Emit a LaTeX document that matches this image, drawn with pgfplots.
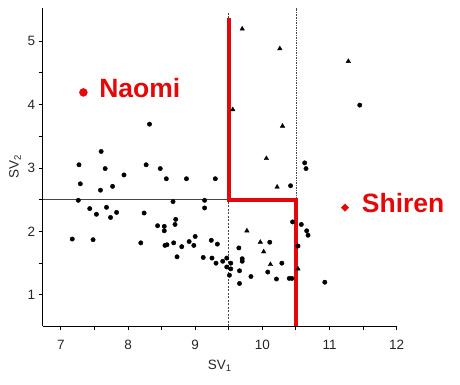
\documentclass[border=0pt]{standalone}
\usepackage{pgfplots}
\pgfplotsset{compat=1.18}
\usepackage{fontspec}
\setmainfont{Liberation Sans}
\definecolor{myred}{RGB}{228,8,10}
\definecolor{dgray}{RGB}{70,70,70}
\begin{document}
\begin{tikzpicture}[x=1pt,y=1pt]
\path[use as bounding box] (0,0) rectangle (460,384);
\begin{axis}[
  at={(42.7pt,58pt)}, anchor=south west,
  scale only axis, width=354pt, height=318pt,
  xmin=6.73, xmax=12, ymin=0.51, ymax=5.52,
  axis lines*=left,
  axis line style={black, line width=0.9pt},
  xtick={7,8,9,10,11,12}, ytick={1,2,3,4,5},
  minor xtick={7.5,8.5,9.5,10.5,11.5}, minor ytick={1.5,2.5,3.5,4.5},
  tick align=outside,
  major tick length=4pt, minor tick length=4pt,
  tick style={black, line width=0.9pt},
  /pgf/number format/assume math mode=true,
  ticklabel style={font=\fontsize{13.5}{16}\selectfont, text=black!85},
  xticklabel style={yshift=-7pt},
  xlabel={SV\textsubscript{1}}, ylabel={SV\textsubscript{2}},
  label style={font=\fontsize{13.5}{16}\selectfont, text=black!85},
  xlabel style={yshift=-3pt},
  clip=false,
]
% reference lines
\addplot[dgray, line width=0.8pt] coordinates {(6.73,2.5) (9.5,2.5)};
\addplot[dgray, line width=0.8pt, dash pattern=on 2pt off 1.5pt] coordinates {(9.5,0.51) (9.5,5.44)};
\addplot[dgray, line width=0.8pt, dash pattern=on 1.5pt off 1pt] coordinates {(10.5,0.51) (10.5,5.52)};
% circles
\addplot[only marks, mark=*, mark size=2.2pt, black] coordinates {
(7.60,3.26) (7.27,3.05) (7.66,2.99) (7.29,2.75) (7.94,2.89) (7.77,2.71)
(7.59,2.65) (7.26,2.49) (7.43,2.36) (7.53,2.27) (7.68,2.38) (7.74,2.22)
(7.83,2.30) (7.17,1.88) (7.48,1.87) (8.32,3.69) (8.27,3.05) (8.48,2.99)
(8.57,2.83) (8.87,2.83) (9.30,2.83) (8.67,2.47) (9.14,2.49) (9.14,2.37)
(8.24,2.29) (8.44,2.09) (8.54,2.08) (8.54,2.01) (8.71,2.19) (8.70,2.11)
(8.19,1.82) (8.55,1.78) (8.58,1.79) (8.68,1.82) (8.80,1.76) (8.91,1.84)
(9.00,1.92) (8.98,1.78) (8.73,1.60) (9.24,1.86) (9.33,1.80) (9.12,1.59)
(9.25,1.58) (9.31,1.50) (9.41,1.53) (9.47,1.58) (9.53,1.50) (9.47,1.44)
(9.53,1.41) (9.51,1.31) (9.65,1.74) (9.66,1.38) (9.66,1.18) (9.70,1.57)
(9.70,1.53) (9.83,1.29) (10.08,1.36) (10.21,1.25) (10.29,1.50) (10.40,1.26)
(10.44,1.26) (10.93,1.20) (10.11,1.83) (10.45,2.15) (10.58,2.11) (10.66,2.01)
(10.68,1.94) (10.53,1.77) (10.42,2.72) (10.63,3.08) (10.65,2.99) (11.45,3.99)
};
% triangles
\addplot[only marks, mark=triangle*, mark size=2.6pt, black] coordinates {
(9.70,5.19) (10.26,4.88) (11.28,4.68) (9.56,3.92) (10.30,3.66) (10.06,3.15)
(10.22,2.70) (9.77,2.01) (9.97,1.83) (10.02,1.68) (10.12,1.48) (10.53,1.41)
};
% red decision boundary
\addplot[myred, line width=4pt, line join=miter] coordinates {(9.5,5.36) (9.5,2.5) (10.5,2.5) (10.5,0.51)};
% labelled cases
\addplot[only marks, mark=*, mark size=4pt, myred] coordinates {(7.336,4.19)};
\addplot[only marks, mark=square*, mark size=2.7pt, mark options={rotate=45}, myred] coordinates {(11.23,2.375)};
\node[anchor=base west, inner sep=0pt, text=myred, font=\fontsize{26.5}{30}\selectfont\bfseries] at (axis cs:7.57,4.107) {Naomi};
\node[anchor=base west, inner sep=0pt, text=myred, font=\fontsize{26.5}{30}\selectfont\bfseries] at (axis cs:11.479,2.30) {Shiren};
\end{axis}
\end{tikzpicture}
\end{document}
